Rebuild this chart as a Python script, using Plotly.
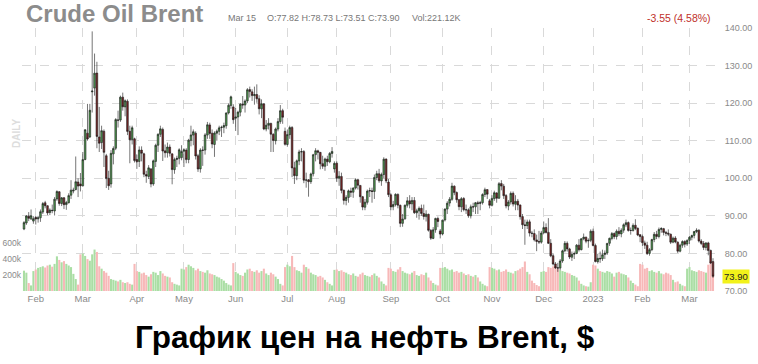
import plotly.graph_objects as go
import pandas as pd

# ---------------- data (daily Brent front-month, Jan 25 2022 - Mar 15 2023) ----------------
holidays = ["2022-04-15", "2022-12-26", "2023-01-02"]

opens = [
    86.5, 88.1, 89.9, 89.2, 88.6,
    89.6, 89.2, 89.5, 91.0, 93.5, 92.7, 90.9, 91.5, 91.3, 94.5, 96.4, 93.3, 94.8, 93.0, 93.5, 95.5, 96.6, 97.0, 99.0, 98.5,
    98.0, 105.0, 112.0, 111.0, 123.0, 124.0, 128.0, 111.0, 109.5, 112.5, 106.0, 100.0, 98.5, 106.5, 108.0, 115.5, 115.5, 121.6, 119.0, 120.5, 112.5, 110.3, 110.5,
    105.0, 104.5, 107.5, 106.5, 101.0, 100.5, 102.5, 98.5, 104.5, 108.8, 111.7, 113.0, 107.3, 106.8, 108.3, 106.5, 102.3, 105.0, 105.3, 105.5,
    107.2, 107.5, 105.0, 110.1, 111.5, 112.0, 106.0, 102.5, 107.5, 107.5, 111.5, 114.2, 112.0, 109.0, 112.0, 112.5, 113.5, 113.6, 114.0, 117.4, 119.4, 119.0,
    116.0, 116.3, 117.6, 119.7, 119.5, 120.6, 123.6, 123.0, 122.0, 122.3, 121.2, 118.5, 119.8, 113.1, 114.1, 114.6, 111.7, 110.0, 113.1, 115.1, 118.0, 112.5,
    109.0, 111.6, 113.5, 102.8, 100.7, 104.6, 107.0, 107.1, 99.5, 99.6, 99.1, 101.2, 106.3, 107.3, 106.9, 103.9, 103.2, 105.1, 104.4, 106.6, 102.5,
    104.0, 100.0, 100.5, 96.8, 94.1, 94.9, 96.6, 96.3, 97.4, 99.6, 98.1, 95.1, 92.3, 93.6, 96.6, 96.7, 96.5, 100.2, 101.2, 99.3, 101.0, 105.1, 99.0,
    95.6, 92.4, 93.0, 95.7, 92.8, 88.0, 89.2, 92.8, 94.0, 93.2, 94.1, 90.8, 91.3, 92.0, 90.6, 89.8, 90.4, 86.1, 84.0, 86.3, 89.3, 86.0,
    85.2, 88.9, 91.8, 93.4, 94.4, 97.9, 96.2, 94.3, 92.4, 94.6, 91.6, 91.6, 90.0, 92.4, 92.4, 93.5, 93.3, 93.5, 95.7, 97.0, 94.0,
    92.8, 94.6, 96.1, 94.7, 98.6, 97.9, 95.4, 92.6, 93.7, 96.0, 93.1, 93.9, 92.9, 89.8, 87.6, 87.4, 88.4, 85.4, 85.3, 83.6, 83.2, 83.0,
    85.5, 86.9, 85.6, 82.7, 79.4, 77.2, 76.2, 76.1, 78.0, 80.7, 82.7, 81.2, 79.0, 79.8, 80.0, 82.2, 81.0, 83.9, 84.3, 83.3, 83.5,
    85.9, 82.1, 77.8, 78.7, 78.6, 79.7, 80.1, 82.7, 84.0, 85.3, 84.5, 85.9, 85.2, 86.2, 87.6, 88.2, 86.1, 86.1, 87.5, 86.7, 85.0,
    84.5, 82.8, 82.2, 80.0, 81.0, 83.7, 85.1, 84.5, 86.4, 86.6, 85.6, 85.4, 85.1, 83.0, 84.1, 83.0, 80.6, 82.2, 83.2, 82.5,
    83.5, 84.3, 84.8, 85.8, 86.2, 83.3, 82.7, 81.6, 82.8, 80.8, 77.82,
]
highs = [
    88.6, 90.2, 91.0, 91.7, 89.9,
    89.9, 90.0, 91.7, 93.7, 94.0, 92.8, 92.0, 93.0, 95.0, 96.8, 96.6, 95.0, 95.0, 94.0, 96.0, 99.5, 97.5, 105.8, 100.0, 101.4,
    107.0, 113.0, 119.8, 119.8, 139.1, 133.2, 131.0, 119.0, 114.0, 113.0, 106.5, 102.0, 107.5, 108.5, 116.0, 118.0, 122.0, 122.8, 121.0, 121.0, 114.0, 114.0, 110.8,
    106.3, 108.5, 108.5, 106.8, 102.0, 103.5, 102.7, 105.0, 109.2, 112.0, 114.0, 113.5, 109.0, 109.5, 109.0, 106.6, 105.5, 106.0, 108.0, 108.8,
    108.0, 108.0, 110.5, 114.0, 113.0, 112.5, 106.5, 108.0, 108.5, 112.0, 115.0, 114.8, 113.0, 112.5, 113.0, 114.0, 114.0, 114.8, 117.5, 119.9, 122.0, 119.7,
    118.7, 118.0, 120.0, 121.9, 121.0, 124.0, 124.4, 123.7, 124.4, 125.0, 122.1, 121.0, 120.0, 115.5, 116.0, 114.8, 112.0, 113.5, 116.0, 119.5, 118.5, 113.5,
    113.0, 114.0, 113.9, 104.4, 105.0, 107.6, 108.0, 107.5, 101.5, 99.8, 101.5, 106.5, 108.0, 107.6, 107.0, 106.0, 105.5, 106.0, 107.0, 108.3, 104.5,
    104.5, 101.9, 101.5, 97.0, 95.5, 97.0, 97.5, 97.6, 100.0, 99.9, 98.2, 95.3, 94.5, 97.0, 97.5, 97.5, 101.0, 102.0, 102.5, 101.5, 105.6, 105.3, 99.8,
    96.0, 94.0, 96.0, 96.0, 93.0, 90.5, 93.0, 95.0, 95.5, 95.0, 95.0, 91.9, 92.5, 93.0, 93.0, 91.5, 90.6, 86.5, 87.0, 89.5, 89.8, 86.5,
    89.0, 92.0, 93.9, 95.0, 98.8, 98.1, 96.5, 94.5, 95.0, 95.0, 93.0, 92.0, 93.0, 93.5, 93.7, 94.0, 94.0, 96.0, 97.5, 97.0, 94.5,
    95.5, 96.7, 96.3, 99.0, 99.5, 98.5, 95.8, 94.2, 96.5, 96.5, 95.5, 94.5, 93.0, 90.5, 89.0, 89.0, 89.0, 86.0, 86.4, 85.0, 86.0, 86.0,
    88.5, 88.0, 89.4, 83.8, 80.0, 77.7, 77.5, 78.5, 81.0, 83.3, 83.2, 81.5, 80.5, 80.5, 82.5, 83.8, 84.0, 85.3, 84.5, 84.0, 86.4,
    86.6, 82.6, 79.9, 80.5, 81.0, 80.8, 82.8, 84.2, 85.7, 85.6, 86.4, 87.0, 86.7, 88.0, 89.0, 88.5, 86.9, 88.0, 89.1, 86.9, 85.1,
    85.0, 83.4, 83.1, 81.4, 83.9, 85.7, 86.0, 86.9, 87.0, 86.8, 86.0, 86.4, 85.3, 84.5, 84.6, 83.2, 82.6, 83.5, 83.5, 83.8,
    84.7, 85.0, 86.0, 86.7, 86.4, 83.8, 83.3, 83.0, 83.1, 81.0, 78.73,
]
lows = [
    86.2, 87.6, 88.6, 88.9, 87.9,
    87.7, 88.2, 88.4, 90.5, 92.0, 90.2, 90.2, 90.7, 90.1, 94.0, 92.7, 92.6, 91.8, 91.6, 93.3, 94.5, 96.0, 96.8, 95.0, 96.5,
    97.8, 104.8, 110.0, 110.7, 117.5, 122.0, 108.0, 107.0, 107.8, 103.0, 97.4, 96.9, 97.5, 103.7, 107.5, 113.5, 115.0, 118.0, 116.5, 111.5, 104.0, 109.0, 104.2,
    102.5, 103.0, 104.5, 100.3, 98.8, 99.8, 97.6, 98.0, 103.0, 107.0, 111.0, 104.6, 105.5, 105.5, 105.8, 98.4, 101.2, 103.0, 103.7, 104.8,
    103.0, 104.0, 104.0, 108.5, 108.8, 105.0, 101.7, 101.5, 103.3, 106.3, 110.5, 110.5, 108.0, 105.7, 110.0, 111.5, 111.0, 112.0, 113.2, 117.0, 118.5, 114.5,
    112.6, 111.5, 116.5, 118.5, 117.5, 120.0, 121.5, 120.6, 119.6, 120.1, 117.0, 116.0, 112.8, 112.5, 113.0, 107.0, 107.0, 109.0, 112.5, 114.5, 114.5, 108.7,
    108.4, 110.5, 100.3, 98.5, 99.5, 103.5, 104.5, 98.7, 97.5, 95.1, 98.5, 100.5, 104.5, 105.0, 102.4, 102.5, 102.0, 103.3, 104.0, 105.5, 101.5,
    99.0, 98.0, 96.0, 93.0, 92.8, 93.5, 95.0, 94.8, 97.0, 97.0, 93.5, 91.5, 91.5, 93.0, 95.0, 93.5, 94.5, 99.5, 98.8, 98.0, 100.0, 98.7, 95.0,
    91.5, 91.5, 92.5, 92.0, 87.0, 87.1, 89.0, 92.2, 92.0, 91.5, 90.5, 89.5, 89.0, 90.0, 89.0, 88.5, 85.8, 83.6, 83.8, 85.5, 87.0, 84.0,
    84.8, 88.5, 90.5, 92.5, 94.0, 95.5, 93.5, 91.5, 91.0, 91.2, 90.5, 89.5, 89.3, 91.0, 90.5, 90.5, 91.5, 93.0, 95.0, 94.5, 92.0,
    92.5, 94.0, 93.5, 94.5, 96.8, 94.5, 92.0, 91.5, 93.0, 92.5, 91.5, 91.5, 89.0, 86.5, 82.3, 86.5, 84.5, 84.3, 83.2, 80.6, 82.5, 82.6,
    85.2, 85.3, 82.5, 79.0, 76.8, 75.9, 75.1, 75.5, 77.5, 80.3, 80.5, 78.5, 78.0, 78.5, 79.8, 80.5, 80.8, 83.5, 82.7, 81.5, 83.0,
    81.9, 77.6, 77.3, 77.5, 78.0, 78.5, 79.6, 82.0, 83.5, 83.8, 83.7, 84.6, 84.3, 85.5, 87.0, 85.8, 85.0, 85.8, 86.2, 84.6, 83.0,
    82.0, 81.2, 79.6, 79.4, 80.6, 83.0, 83.8, 84.0, 85.5, 84.8, 84.6, 84.6, 82.5, 82.7, 82.7, 80.1, 80.3, 81.5, 81.6, 82.0,
    82.5, 83.5, 84.0, 85.4, 82.9, 82.2, 80.9, 80.8, 79.5, 77.2, 73.51,
]
closes = [
    88.20, 89.96, 89.34, 90.03, 89.26,
    89.16, 89.47, 91.11, 93.27, 92.69, 90.78, 91.55, 91.41, 94.44, 96.48, 93.28, 94.81, 92.97, 93.54, 95.39, 96.84, 96.84, 99.08, 97.93, 97.97,
    104.97, 112.93, 110.46, 118.11, 123.21, 127.98, 111.14, 109.33, 112.67, 106.90, 99.91, 98.02, 106.64, 107.93, 115.62, 115.48, 121.60, 119.03, 120.65, 112.48, 110.23, 113.45, 104.71,
    104.39, 107.53, 106.64, 101.07, 100.58, 102.78, 98.48, 104.64, 108.78, 111.70, 113.16, 107.25, 106.80, 108.33, 106.65, 102.32, 104.99, 105.32, 107.59, 107.14,
    107.58, 104.97, 110.14, 111.55, 112.39, 105.94, 102.46, 107.51, 107.45, 111.55, 114.24, 111.93, 109.11, 112.04, 112.55, 113.42, 113.56, 114.03, 117.40, 119.43, 121.67, 115.60,
    116.29, 117.61, 119.72, 119.51, 120.57, 123.58, 123.07, 122.01, 122.27, 121.17, 118.51, 119.81, 113.12, 114.13, 114.65, 111.74, 110.05, 113.12, 115.09, 117.98, 116.26, 109.03,
    111.63, 113.50, 102.77, 100.69, 104.65, 107.02, 107.10, 99.49, 99.57, 99.10, 101.16, 106.27, 107.35, 106.92, 103.86, 103.20, 105.15, 104.40, 106.62, 107.14, 103.97,
    100.03, 100.54, 96.78, 94.12, 94.92, 96.65, 96.31, 97.40, 99.60, 98.15, 95.10, 92.34, 93.65, 96.59, 96.72, 96.48, 100.22, 101.22, 99.34, 100.99, 105.09, 99.31, 95.64,
    92.36, 93.02, 95.74, 92.83, 88.00, 89.15, 92.84, 94.00, 93.17, 94.10, 90.84, 91.35, 92.00, 90.62, 89.83, 90.46, 86.15, 84.06, 86.27, 89.32, 88.49, 85.14,
    88.86, 91.80, 93.37, 94.42, 97.92, 96.19, 94.29, 92.45, 94.57, 91.63, 91.62, 90.03, 92.41, 92.38, 93.50, 93.26, 93.52, 95.69, 96.96, 95.77, 92.81,
    94.65, 96.16, 94.67, 98.57, 97.92, 95.36, 92.65, 93.67, 95.99, 93.14, 93.86, 92.86, 89.78, 87.62, 87.45, 88.36, 85.41, 85.34, 83.63, 83.19, 83.03, 85.43,
    86.88, 85.57, 82.68, 79.35, 77.17, 76.15, 76.10, 77.99, 80.68, 82.70, 81.21, 79.04, 79.80, 79.99, 82.20, 80.98, 83.92, 84.33, 83.26, 83.46, 85.91,
    82.10, 77.84, 78.69, 78.57, 79.65, 80.10, 82.67, 84.03, 85.28, 84.46, 85.92, 85.23, 86.16, 87.63, 88.19, 86.13, 86.12, 87.47, 86.66, 84.90, 84.49,
    82.84, 82.17, 79.94, 80.99, 83.69, 85.09, 84.50, 86.39, 86.61, 85.58, 85.38, 85.14, 83.00, 84.07, 83.05, 80.60, 82.21, 83.16, 82.45, 83.45,
    84.31, 84.75, 85.83, 86.18, 83.29, 82.66, 81.59, 82.78, 80.77, 77.45, 73.90,
]
# volume, thousands of contracts
volumes = [
    255, 230, 100, 70, 250,
    270, 290, 300, 310, 295, 320, 330, 305, 340, 435, 390, 360, 375, 340, 320, 300, 215, 150, 80, 460,
    470, 440, 400, 380, 460, 520, 490, 310, 280, 250, 230, 190, 150, 140, 130, 120, 140, 110, 100, 110, 90, 80, 340,
    250, 240, 220, 230, 200, 180, 210, 240, 230, 200, 250, 220, 190, 180, 170, 110, 90, 80, 70, 280,
    270, 300, 330, 310, 290, 260, 280, 250, 240, 230, 260, 220, 210, 200, 180, 170, 150, 130, 100, 80, 70, 350,
    240, 220, 200, 190, 230, 270, 280, 250, 240, 260, 230, 250, 280, 220, 200, 230, 210, 180, 150, 90, 70, 300,
    330, 310, 440, 300, 260, 250, 230, 330, 300, 280, 230, 210, 200, 180, 190, 170, 140, 110, 90, 70, 265,
    270, 250, 260, 240, 230, 210, 200, 220, 190, 180, 210, 230, 200, 190, 180, 200, 220, 190, 170, 120, 90, 70, 290,
    280, 250, 240, 270, 300, 250, 230, 220, 210, 230, 250, 200, 190, 210, 200, 230, 170, 130, 100, 80, 70, 290,
    290, 300, 280, 260, 270, 240, 250, 230, 240, 220, 200, 210, 190, 180, 200, 170, 120, 90, 70, 60, 300,
    290, 280, 260, 270, 240, 250, 270, 240, 230, 220, 250, 260, 280, 300, 370, 240, 210, 130, 100, 75, 60, 240,
    250, 240, 300, 290, 310, 300, 280, 260, 250, 240, 230, 220, 200, 190, 170, 130, 90, 70, 60, 55, 110,
    330, 320, 280, 250, 240, 230, 250, 240, 220, 180, 230, 240, 220, 210, 200, 170, 130, 100, 80, 60, 340,
    330, 280, 290, 250, 260, 240, 230, 250, 220, 210, 230, 220, 200, 140, 110, 120, 90, 70, 60, 280,
    300, 260, 250, 240, 260, 250, 240, 230, 330, 370, 221.12,
]
price_ticks = [70, 80, 90, 100, 110, 120, 130, 140]
volume_ticks = [200, 400, 600]
volume_tick_labels = ["200k", "400k", "600k"]
title_text = "Crude Oil Brent"
caption_text = "График цен на нефть Brent, $"

dates = pd.bdate_range("2022-01-25", "2023-03-15", freq="C", holidays=holidays)
n = len(dates)
assert n == len(opens) == len(highs) == len(lows) == len(closes) == len(volumes), (
    n, len(opens), len(highs), len(lows), len(closes), len(volumes))
ds = [d.strftime("%Y-%m-%d") for d in dates]

tickvals, ticktext = [], []
for i in range(1, n):
    if dates[i].month != dates[i - 1].month:
        tickvals.append(ds[i])
        ticktext.append(str(dates[i].year) if dates[i].month == 1 else dates[i].strftime("%b"))

UP_VOL = "rgb(170,222,164)"
DN_VOL = "rgb(247,184,184)"
vol_colors = [UP_VOL if c >= o else DN_VOL for o, c in zip(opens, closes)]

# ---------------- layout geometry ----------------
W, H = 758, 364
L, R, T, B = 22, 43, 28, 73
PW, PH = W - L - R, H - T - B
def px(x):
    return (x - L) / PW
def py(y):
    return (H - B - y) / PH

GREY = "#8a8a8a"
GRID = "#d9d9d9"
FONT = "Liberation Sans, Arial, sans-serif"

fig = go.Figure()
fig.add_trace(go.Bar(
    x=ds, y=volumes, marker=dict(color=vol_colors, line=dict(width=0)),
    yaxis="y", hoverinfo="skip", showlegend=False))
fig.add_trace(go.Candlestick(
    x=ds, open=opens, high=highs, low=lows, close=closes, yaxis="y2",
    increasing=dict(line=dict(color="#1a1a1a", width=0.6), fillcolor="#4f9a4f"),
    decreasing=dict(line=dict(color="#1a1a1a", width=0.6), fillcolor="#7a2424"),
    whiskerwidth=0, showlegend=False))

last_o, last_h, last_l, last_c = opens[-1], highs[-1], lows[-1], closes[-1]
chg = last_c - closes[-2]
pct = chg / closes[-2] * 100
last_date = dates[-1].strftime("%b %d").replace(" 0", " ")

ann = [
    dict(text="<b>" + title_text + "</b>", x=px(24), y=py(14), xanchor="left", yanchor="middle",
         font=dict(size=24, color="#8c8c8c")),
    dict(text=last_date, x=px(226), y=py(18.5), xanchor="left", yanchor="middle",
         font=dict(size=9, color="#777777")),
    dict(text=f"O:{last_o:.2f} H:{last_h:.2f} L:{last_l:.2f} C:{last_c:.2f}", x=px(265), y=py(18.5),
         xanchor="left", yanchor="middle", font=dict(size=9, color="#777777")),
    dict(text=f"Vol:{volumes[-1]:.2f}K", x=px(410), y=py(18.5), xanchor="left", yanchor="middle",
         font=dict(size=9, color="#777777")),
    dict(text=f"{chg:.2f} ({abs(pct):.2f}%)", x=px(645), y=py(18), xanchor="left", yanchor="middle",
         font=dict(size=10.5, color="#c0302a")),
    dict(text="<b>DAILY</b>", x=px(16), y=py(134), xanchor="center", yanchor="middle", textangle=-90,
         font=dict(size=10, color="#dddddd")),
    dict(text=f"{last_c:.2f}", x=1, xshift=7, y=last_c, yref="y2", xref="paper", xanchor="left",
         yanchor="middle", bgcolor="#f2f21a", borderpad=1, font=dict(size=9.5, color="#222222")),
    dict(text="<b>" + caption_text + "</b>", x=px(364.5), y=py(337), xanchor="center", yanchor="middle",
         font=dict(size=31.5, color="#000000")),
]
for a in ann:
    a.setdefault("xref", "paper")
    a.setdefault("yref", "paper")
    a["showarrow"] = False

fig.update_layout(
    width=W, height=H, margin=dict(l=L, r=R, t=T, b=B, pad=0, autoexpand=False),
    paper_bgcolor="white", plot_bgcolor="white",
    font=dict(family=FONT, color=GREY, size=10),
    bargap=0.12, boxgap=0.0, showlegend=False, annotations=ann,
    xaxis=dict(type="category", range=[-0.85, n - 1 + 0.85], tickvals=tickvals, ticktext=ticktext,
               showgrid=True, gridcolor=GRID, griddash="dash", gridwidth=1, ticks="",
               tickfont=dict(size=9.5, color=GREY), rangeslider=dict(visible=False),
               showline=False, zeroline=False, fixedrange=True, automargin=False),
    yaxis=dict(range=[0, 3300], tickvals=volume_ticks, ticktext=volume_tick_labels, side="left",
               showgrid=False, zeroline=False, showline=False, ticks="", automargin=False,
               tickfont=dict(size=8.5, color=GREY)),
    yaxis2=dict(overlaying="y", side="right", range=[70, 140], tickvals=price_ticks, tickformat=".2f",
                showgrid=True, gridcolor=GRID, griddash="dash", gridwidth=1, zeroline=False,
                showline=False, ticks="outside", ticklen=7, tickcolor="rgba(0,0,0,0)", automargin=False,
                tickfont=dict(size=9, color=GREY)),
)

fig.write_html("out.html")
